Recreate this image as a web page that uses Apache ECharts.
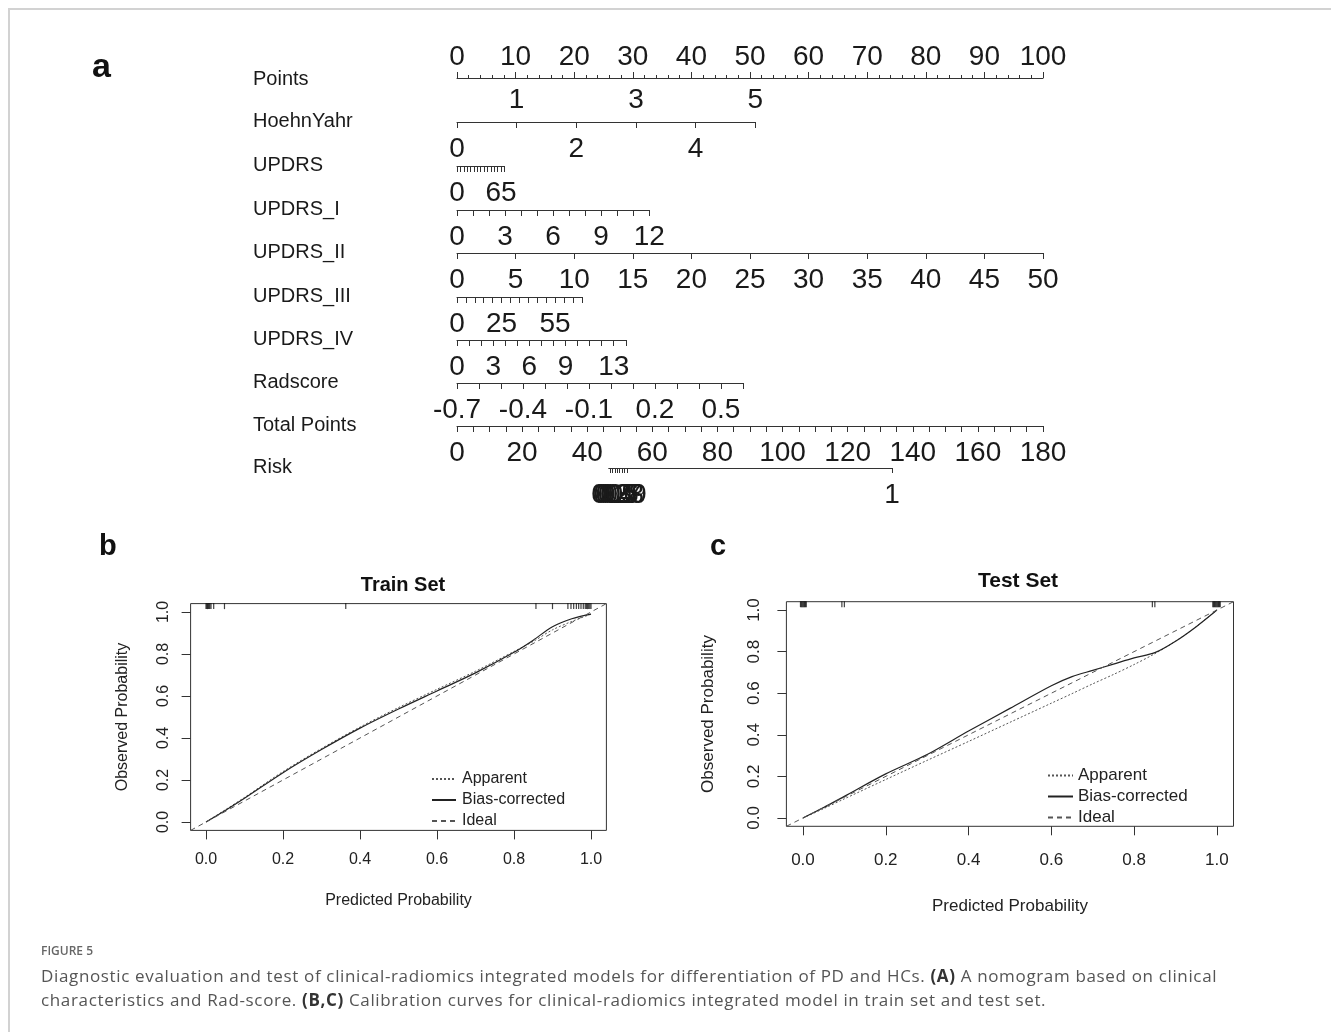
<!DOCTYPE html>
<html>
<head>
<meta charset="utf-8">
<script src="https://cdn.jsdelivr.net/npm/echarts@6/dist/echarts.min.js"></script>
<style>
  html, body { margin: 0; padding: 0; background: #fff; }
  body { width: 1331px; height: 1032px; position: relative; overflow: hidden; }
  #frame { position: absolute; left: 8px; top: 8px; width: 1400px; height: 1100px;
           border-left: 2px solid #d2d2d2; border-top: 2px solid #d2d2d2; }
  #chart { position: absolute; left: 0; top: 0; width: 1331px; height: 1032px; }
  #caption { position: absolute; left: 41px; top: 942px; font-family: 'Open Sans', 'Noto Sans', sans-serif; }
  #caption .fig { font-size: 12px; color: #666; font-weight: 600; line-height: 18px; }
  #caption .txt { margin-top: 4px; font-size: 17px; letter-spacing: 0.65px; line-height: 24px; color: #555; white-space: nowrap; }
  #caption b { color: #333; }
</style>
</head>
<body>
<div id="frame"></div>
<div id="chart"></div>
<div id="caption">
  <div class="fig">FIGURE 5</div>
  <div class="txt">Diagnostic evaluation and test of clinical-radiomics integrated models for differentiation of PD and HCs. <b>(A)</b> A nomogram based on clinical<br>characteristics and Rad-score. <b>(B,C)</b> Calibration curves for clinical-radiomics integrated model in train set and test set.</div>
</div>
<script>
// ---- nomogram data ----
const rowNames = ['Points', 'HoehnYahr', 'UPDRS', 'UPDRS_I', 'UPDRS_II', 'UPDRS_III', 'UPDRS_IV', 'Radscore', 'Total Points', 'Risk']

// predictors (HoehnYahr .. Radscore): value range, tick step, points given at the max value
const varMin = [0, 0, 0, 0, 0, 0, -0.7]
const varMax = [5, 70, 12, 50, 70, 14, 0.6]
const varTickStep = [1, 5, 1, 5, 5, 1, 0.1]
const varPointsAtMax = [50.9, 8.1, 32.8, 100, 21.3, 28.8, 48.8]
const varLabelsBelow = [
    [0, 2, 4],
    [0, 65],
    [0, 3, 6, 9, 12],
    [0, 5, 10, 15, 20, 25, 30, 35, 40, 45, 50],
    [0, 25, 55],
    [0, 3, 6, 9, 13],
    [-0.7, -0.4, -0.1, 0.2, 0.5],
]
const varLabelsAbove = [[1, 3, 5], [], [], [], [], [], []]

const pointsMax = 100
const totalPointsMax = 180
// risk scale, placed on the total points scale
const riskTickPoints = [46.6, 47.2, 47.8, 48.5, 49.2, 49.9, 50.7, 51.5, 52.3, 133.6]
const riskTickLabels = ['0.1', '0.2', '0.3', '0.4', '0.5', '0.6', '0.7', '0.8', '0.9', '1']

// ---- calibration data ----
const calibTicks = [0, 0.2, 0.4, 0.6, 0.8, 1.0]
const idealX = [-0.04, 1.04]

const trainX = [0.0, 0.05, 0.1, 0.2, 0.3, 0.4, 0.5, 0.6, 0.7, 0.8, 0.85, 0.9, 0.95, 1.0]
const trainApparent = [0.0, 0.058, 0.117, 0.24, 0.35, 0.452, 0.545, 0.632, 0.718, 0.812, 0.86, 0.915, 0.955, 0.99]
const trainBiasCorrected = [0.0, 0.055, 0.113, 0.235, 0.345, 0.447, 0.538, 0.624, 0.71, 0.808, 0.866, 0.93, 0.968, 0.99]
const trainRug = [0.0, 0.002, 0.004, 0.006, 0.008, 0.01, 0.013, 0.02, 0.048, 0.363, 0.857, 0.9,
    0.94, 0.948, 0.955, 0.962, 0.968, 0.974, 0.98, 0.985, 0.988, 0.991, 0.994, 0.997, 1.0]

const testX = [0.0, 0.05, 0.1, 0.2, 0.3, 0.4, 0.5, 0.6, 0.65, 0.7, 0.75, 0.8, 0.85, 0.9, 0.95, 1.0]
const testApparent = [0.0, 0.045, 0.092, 0.185, 0.277, 0.368, 0.46, 0.552, 0.598, 0.645, 0.69, 0.738, 0.79, 0.85, 0.92, 1.0]
const testBiasCorrected = [0.0, 0.05, 0.104, 0.212, 0.305, 0.418, 0.527, 0.636, 0.68, 0.71, 0.74, 0.77, 0.795, 0.85, 0.92, 1.0]
const testRug = [-0.006, -0.004, -0.002, 0.0, 0.002, 0.004, 0.006, 0.008, 0.094, 0.1, 0.844, 0.85,
    0.99, 0.992, 0.994, 0.996, 0.998, 1.0, 1.002, 1.004, 1.006, 1.008]

// ---- layout ----
const FONT = "'Liberation Sans', Arial, sans-serif"
const NOMO_LEFT = 457
const NOMO_WIDTH = 586
const NAME_X = 253
const rowLineY = [78, 122, 166, 210, 253, 297, 340, 383, 426, 468]
const ink = '#1a1a1a'
const axisLineStyle = { color: '#333', width: 1 }
const numText = { fontFamily: FONT, fontSize: 28, color: ink }

const range = (min, max, step) => {
    const out = []
    const n = Math.round((max - min) / step)
    for (let i = 0; i <= n; i++) out.push(Math.round((min + i * step) * 1000) / 1000)
    return out
}

const grids = []
const xAxes = []
const yAxes = []
const series = []

function addRow(name, lineY, left, width, axes) {
    const gi = grids.length
    grids.push({ left: left, top: lineY - 2, width: width, height: 2, show: false })
    yAxes.push({
        gridIndex: gi,
        type: 'category',
        data: [name],
        axisLine: { show: false, onZero: false },
        axisTick: { show: false },
        splitLine: { show: false },
        axisLabel: { align: 'left', margin: left - NAME_X, padding: [5, 0, 0, 0], fontFamily: FONT, fontSize: 20, color: ink },
    })
    axes.forEach((a) => {
        const ax = Object.assign({ gridIndex: gi, type: 'value', splitLine: { show: false } }, a)
        ax.axisLine = Object.assign({ onZero: false }, ax.axisLine)
        xAxes.push(ax)
    })
}

// Points
addRow(rowNames[0], rowLineY[0] + 2, NOMO_LEFT, NOMO_WIDTH, [
    {
        position: 'top',
        min: 0,
        max: pointsMax,
        interval: 10,
        axisLine: { show: true, lineStyle: axisLineStyle },
        axisTick: { show: true, length: 6, lineStyle: axisLineStyle },
        minorTick: { show: true, splitNumber: 5, length: 3, lineStyle: axisLineStyle },
        axisLabel: Object.assign({ margin: 7 }, numText),
    },
])

// predictors
for (let i = 0; i < varMin.length; i++) {
    const width = (varPointsAtMax[i] / pointsMax) * NOMO_WIDTH
    const ticks = range(varMin[i], varMax[i], varTickStep[i])
    const axes = [
        {
            position: 'bottom',
            min: varMin[i],
            max: varMax[i],
            axisLine: { show: true, lineStyle: axisLineStyle },
            axisTick: { show: true, length: 6, customValues: ticks, lineStyle: axisLineStyle },
            axisLabel: Object.assign({ margin: 13, customValues: varLabelsBelow[i] }, numText),
        },
    ]
    if (varLabelsAbove[i].length) {
        axes.push({
            position: 'top',
            min: varMin[i],
            max: varMax[i],
            axisLine: { show: false },
            axisTick: { show: false },
            axisLabel: Object.assign({ margin: 6, customValues: varLabelsAbove[i] }, numText),
        })
    }
    addRow(rowNames[i + 1], rowLineY[i + 1], NOMO_LEFT, width, axes)
}

// Total Points
addRow(rowNames[8], rowLineY[8], NOMO_LEFT, NOMO_WIDTH, [
    {
        position: 'bottom',
        min: 0,
        max: totalPointsMax,
        interval: 20,
        axisLine: { show: true, lineStyle: axisLineStyle },
        axisTick: { show: true, length: 6, lineStyle: axisLineStyle },
        minorTick: { show: true, splitNumber: 4, length: 6, lineStyle: axisLineStyle },
        axisLabel: Object.assign({ margin: 13 }, numText),
    },
])

// Risk
const riskMin = riskTickPoints[0]
const riskMax = riskTickPoints[riskTickPoints.length - 1]
addRow(
    rowNames[9],
    rowLineY[9],
    NOMO_LEFT + (riskMin / totalPointsMax) * NOMO_WIDTH,
    ((riskMax - riskMin) / totalPointsMax) * NOMO_WIDTH,
    [
        {
            position: 'bottom',
            min: riskMin,
            max: riskMax,
            axisLine: { show: true, lineStyle: axisLineStyle },
            axisTick: { show: true, length: 5, customValues: riskTickPoints, lineStyle: axisLineStyle },
            axisLabel: Object.assign(
                {
                    margin: 13,
                    customValues: riskTickPoints,
                    formatter: (v) => riskTickLabels[riskTickPoints.indexOf(v)],
                },
                numText
            ),
        },
    ]
)

// ---- calibration panels ----
function addCalibration(box, xs, apparent, biasCorrected, rug, fontSize, labelMargin, nameGapX, nameGapY) {
    const gi = grids.length
    grids.push({ left: box.left, top: box.top, width: box.width, height: box.height, show: true, borderColor: '#333', borderWidth: 1, backgroundColor: 'transparent' })
    const label = { fontFamily: FONT, fontSize: fontSize, color: '#222', formatter: (v) => v.toFixed(1) }
    const name = { fontFamily: FONT, fontSize: fontSize, color: '#222' }
    xAxes.push({
        gridIndex: gi,
        type: 'value',
        position: 'bottom',
        min: -0.04,
        max: 1.04,
        axisLine: { show: false, onZero: false },
        axisTick: { show: true, inside: false, length: 9, customValues: calibTicks, lineStyle: axisLineStyle },
        axisLabel: Object.assign({ margin: labelMargin, customValues: calibTicks }, label),
        splitLine: { show: false },
        name: 'Predicted Probability',
        nameLocation: 'middle',
        nameGap: nameGapX,
        nameTextStyle: name,
    })
    yAxes.push({
        gridIndex: gi,
        type: 'value',
        position: 'left',
        min: -0.04,
        max: 1.04,
        axisLine: { show: false, onZero: false },
        axisTick: { show: true, inside: false, length: 9, customValues: calibTicks, lineStyle: axisLineStyle },
        axisLabel: Object.assign({ margin: labelMargin - 2, rotate: 90, customValues: calibTicks }, label),
        splitLine: { show: false },
        name: 'Observed Probability',
        nameLocation: 'middle',
        nameGap: nameGapY,
        nameTextStyle: name,
    })
    const xi = xAxes.length - 1
    const yi = yAxes.length - 1
    const common = { type: 'line', xAxisIndex: xi, yAxisIndex: yi, symbol: 'none', silent: true, animation: false }
    series.push(
        Object.assign({}, common, {
            name: 'Apparent',
            smooth: 0.3,
            data: xs.map((x, i) => [x, apparent[i]]),
            lineStyle: { type: [2, 2], width: 1, color: '#555' },
            itemStyle: { color: '#555' },
        }),
        Object.assign({}, common, {
            name: 'Bias-corrected',
            smooth: 0.3,
            data: xs.map((x, i) => [x, biasCorrected[i]]),
            lineStyle: { type: 'solid', width: 1.2, color: '#222' },
            itemStyle: { color: '#222' },
        }),
        Object.assign({}, common, {
            name: 'Ideal',
            data: idealX.map((x) => [x, x]),
            lineStyle: { type: [5, 4], width: 1, color: '#555' },
            itemStyle: { color: '#555' },
        }),
        {
            type: 'scatter',
            xAxisIndex: xi,
            yAxisIndex: yi,
            silent: true,
            animation: false,
            symbol: 'rect',
            symbolSize: [1.2, 6],
            itemStyle: { color: '#111' },
            data: rug.map((x) => [x, 1.028]),
        }
    )
}

addCalibration({ left: 190.6, top: 603.6, width: 415.8, height: 226.8 }, trainX, trainApparent, trainBiasCorrected, trainRug, 16, 21, 62, 60)
addCalibration({ left: 786.4, top: 601.7, width: 447.1, height: 224.6 }, testX, testApparent, testBiasCorrected, testRug, 17, 26, 72, 70)

const legendNames = ['Apparent', 'Bias-corrected', 'Ideal']
const option = {
    animation: false,
    backgroundColor: 'transparent',
    title: [
        { text: 'a', left: 87, top: 46, textStyle: { fontFamily: FONT, fontSize: 34, fontWeight: 'bold', color: '#111' } },
        { text: 'b', left: 94, top: 527, textStyle: { fontFamily: FONT, fontSize: 29, fontWeight: 'bold', color: '#111' } },
        { text: 'c', left: 705, top: 527, textStyle: { fontFamily: FONT, fontSize: 29, fontWeight: 'bold', color: '#111' } },
        { text: 'Train Set', left: 398, textAlign: 'center', top: 570, textStyle: { fontFamily: FONT, fontSize: 20, fontWeight: 'bold', color: '#111' } },
        { text: 'Test Set', left: 1013, textAlign: 'center', top: 566, textStyle: { fontFamily: FONT, fontSize: 21, fontWeight: 'bold', color: '#111' } },
    ],
    legend: [
        {
            left: 426, top: 766, orient: 'vertical', selectedMode: false,
            itemWidth: 24, itemHeight: 12, itemGap: 5,
            itemStyle: { opacity: 0 },
            data: legendNames,
            textStyle: { fontFamily: FONT, fontSize: 16, color: '#222', padding: [0, 0, 0, 1] },
        },
        {
            left: 1042, top: 762, orient: 'vertical', selectedMode: false,
            itemWidth: 25, itemHeight: 12, itemGap: 4,
            itemStyle: { opacity: 0 },
            data: legendNames,
            textStyle: { fontFamily: FONT, fontSize: 17, color: '#222', padding: [0, 0, 0, 0] },
        },
    ],
    grid: grids,
    xAxis: xAxes,
    yAxis: yAxes,
    series: series,
}

const chart = echarts.init(document.getElementById('chart'), null, { renderer: 'canvas' })
chart.setOption(option)
</script>
</body>
</html>
